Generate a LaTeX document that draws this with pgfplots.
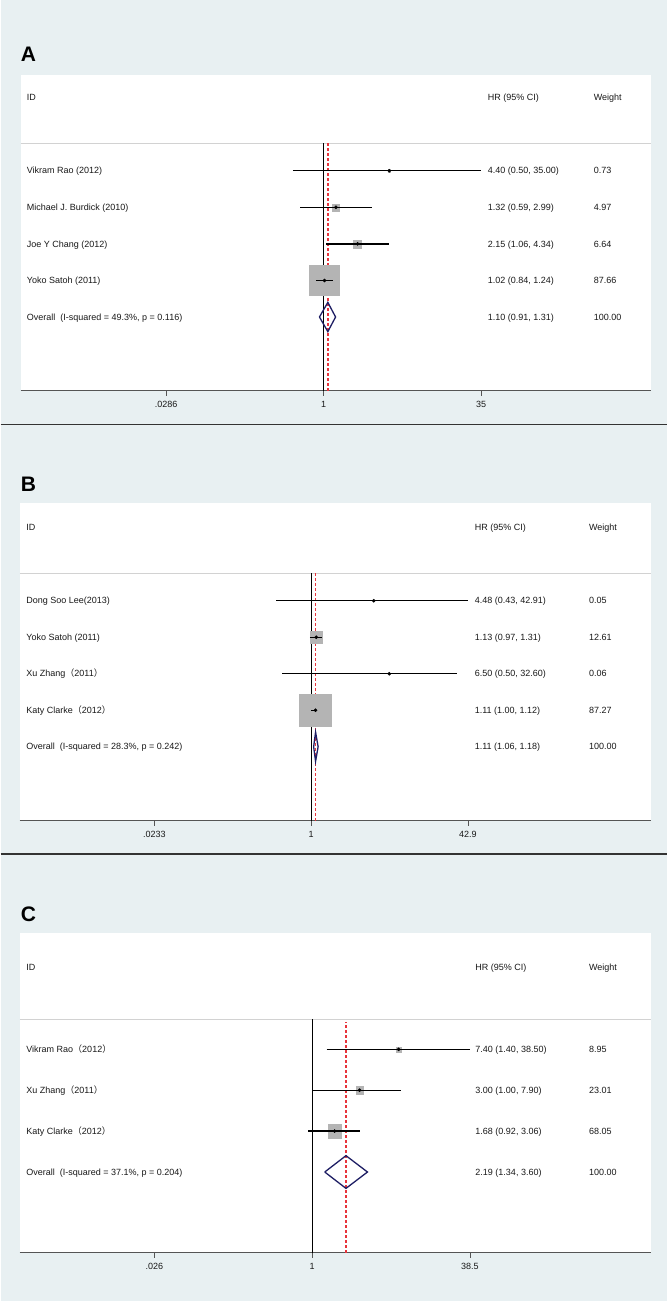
\documentclass[border=0pt]{standalone}
\usepackage{fontspec}
\setmainfont{Liberation Sans}
\newfontfamily\cjk{Noto Sans CJK SC}
\usepackage{pgfplots}
\usepackage{pgfplotstable}
\pgfplotsset{compat=1.18}

\definecolor{bgcol}{HTML}{E8F0F2}
\definecolor{boxgray}{HTML}{B4B4B4}
\definecolor{navy}{HTML}{1E1E64}
\definecolor{refred}{HTML}{E8343C}
\definecolor{hdrgray}{HTML}{D2D2D2}
\definecolor{axgray}{HTML}{555555}

% studies: row, HR, lower, upper, weight
\pgfplotstableread{
row hr   lo   hi    w
6   4.40 0.50 35.00 0.73
5   1.32 0.59 2.99  4.97
4   2.15 1.06 4.34  6.64
3   1.02 0.84 1.24  87.66
}\tabA
\pgfplotstableread{
row hr   lo   hi    w
6   4.48 0.43 42.91 0.05
5   1.13 0.97 1.31  12.61
4   6.50 0.50 32.60 0.06
3   1.11 1.00 1.12  87.27
}\tabB
\pgfplotstableread{
row hr   lo   hi    w
5   7.40 1.40 38.50 8.95
4   3.00 1.00 7.90  23.01
3   1.68 0.92 3.06  68.05
}\tabC

\newcommand{\lp}{{\cjk （}}
\newcommand{\rp}{{\cjk ）}}

\tikzset{
  lab/.style={anchor=base west, inner sep=0pt, yshift=-3.2pt,
    font=\fontsize{9}{10}\selectfont, text=black!90},
  ci/.style={black, line width=1.4pt},
  refl/.style={refred, line width=1.4pt, dash pattern=on 3pt off 2pt},
  diam/.style={navy, line width=1.3pt},
}

% text of one row: x of label, x of HR, x of weight, row, label, HR, weight
\newcommand{\rowtext}[7]{%
  \node[lab] at ({rel axis cs:#1,0} |- {axis cs:1,#4}) {#5};
  \node[lab] at ({rel axis cs:#2,0} |- {axis cs:1,#4}) {#6};
  \node[lab] at ({rel axis cs:#3,0} |- {axis cs:1,#4}) {#7};
}

\begin{document}
\begin{tikzpicture}
\fill[bgcol] (0,0) rectangle (666pt,-1301pt);
\draw[black!80, line width=1.4pt] (0,-424.3pt) -- (666pt,-424.3pt);
\draw[black!80, line width=1.4pt] (0,-853.8pt) -- (666pt,-853.8pt);

\node[anchor=west, inner sep=0pt, font=\fontsize{21}{21}\selectfont\bfseries] at (20pt,-54pt) {A};
\node[anchor=west, inner sep=0pt, font=\fontsize{21}{21}\selectfont\bfseries] at (20pt,-484pt) {B};
\node[anchor=west, inner sep=0pt, font=\fontsize{21}{21}\selectfont\bfseries] at (20pt,-914pt) {C};

% ---------------- A
\begin{axis}[xmode=log, scale only axis, clip=false, clip marker paths=true,
  axis background/.style={fill=white},
  axis x line*=bottom, axis y line=none,
  axis line style={axgray, line width=1pt},
  tick align=outside, major tick length=5pt,
  tick style={axgray, line width=0.8pt},
  ytick=\empty,
  xticklabel style={font=\fontsize{9}{10}\selectfont, text=black!90, yshift=-2pt},
  at={(20pt,-390.7pt)}, anchor=south west,
  width=630pt, height=315.7pt,
  xmin=0.001073, xmax=1608, ymin=-0.015, ymax=8.617,
  xtick={0.0286,1,35}, xticklabels={.0286,1,35}]
\addplot[hdrgray, line width=0.9pt] coordinates {(0.001073,6.749) (1608,6.749)};
\addplot[black, line width=0.9pt] coordinates {(1,-0.015) (1,6.749)};
\addplot[refl] coordinates {(1.10,-0.015) (1.10,6.749)};
\addplot[scatter, only marks, mark=square*,
  scatter/use mapped color={draw=boxgray, fill=boxgray},
  visualization depends on={\thisrow{w} \as \wt},
  scatter/@pre marker code/.append style={/tikz/mark size={1.6*sqrt(\wt)}}]
  table[x=hr, y=row] \tabA;
\addplot[ci] coordinates {(0.50,6) (35.00,6)};
\addplot[ci] coordinates {(0.59,5) (2.99,5)};
\addplot[ci] coordinates {(1.06,4) (4.34,4)};
\addplot[ci] coordinates {(0.84,3) (1.24,3)};
\addplot[only marks, mark=*, mark size=1.6pt, black] table[x=hr, y=row] \tabA;
\addplot[diam] coordinates {(0.91,2) (1.10,2.4) (1.31,2) (1.10,1.6) (0.91,2)};
\rowtext{0.0095}{0.7413}{0.9095}{8.007}{ID}{HR (95\% CI)}{Weight}
\rowtext{0.0095}{0.7413}{0.9095}{6}{Vikram Rao (2012)}{4.40 (0.50, 35.00)}{0.73}
\rowtext{0.0095}{0.7413}{0.9095}{5}{Michael J. Burdick (2010)}{1.32 (0.59, 2.99)}{4.97}
\rowtext{0.0095}{0.7413}{0.9095}{4}{Joe Y Chang (2012)}{2.15 (1.06, 4.34)}{6.64}
\rowtext{0.0095}{0.7413}{0.9095}{3}{Yoko Satoh (2011)}{1.02 (0.84, 1.24)}{87.66}
\rowtext{0.0095}{0.7413}{0.9095}{2}{Overall\ \ (I-squared = 49.3\%, p = 0.116)}{1.10 (0.91, 1.31)}{100.00}
\end{axis}

% ---------------- B
\begin{axis}[xmode=log, scale only axis, clip=false, clip marker paths=true,
  axis background/.style={fill=white},
  axis x line*=bottom, axis y line=none,
  axis line style={axgray, line width=1pt},
  tick align=outside, major tick length=5pt,
  tick style={axgray, line width=0.8pt},
  ytick=\empty,
  xticklabel style={font=\fontsize{9}{10}\selectfont, text=black!90, yshift=-2pt},
  at={(19pt,-820.7pt)}, anchor=south west,
  width=631pt, height=317.4pt,
  xmin=0.000921, xmax=3429, ymin=-0.027, ymax=8.669,
  xtick={0.0233,1,42.9}, xticklabels={.0233,1,42.9}]
\addplot[hdrgray, line width=0.9pt] coordinates {(0.000921,6.751) (3429,6.751)};
\addplot[black, line width=0.9pt] coordinates {(1,-0.027) (1,6.751)};
\addplot[refl] coordinates {(1.11,-0.027) (1.11,6.751)};
\addplot[scatter, only marks, mark=square*,
  scatter/use mapped color={draw=boxgray, fill=boxgray},
  visualization depends on={\thisrow{w} \as \wt},
  scatter/@pre marker code/.append style={/tikz/mark size={1.7*sqrt(\wt)}}]
  table[x=hr, y=row] \tabB;
\addplot[ci] coordinates {(0.43,6) (42.91,6)};
\addplot[ci] coordinates {(0.97,5) (1.31,5)};
\addplot[ci] coordinates {(0.50,4) (32.60,4)};
\addplot[ci] coordinates {(1.00,3) (1.12,3)};
\addplot[only marks, mark=*, mark size=1.6pt, black] table[x=hr, y=row] \tabB;
\addplot[diam] coordinates {(1.06,2) (1.11,2.4) (1.18,2) (1.11,1.6) (1.06,2)};
\rowtext{0.0103}{0.721}{0.902}{8.011}{ID}{HR (95\% CI)}{Weight}
\rowtext{0.0103}{0.721}{0.902}{6}{Dong Soo Lee(2013)}{4.48 (0.43, 42.91)}{0.05}
\rowtext{0.0103}{0.721}{0.902}{5}{Yoko Satoh (2011)}{1.13 (0.97, 1.31)}{12.61}
\rowtext{0.0103}{0.721}{0.902}{4}{Xu Zhang\lp 2011\rp}{6.50 (0.50, 32.60)}{0.06}
\rowtext{0.0103}{0.721}{0.902}{3}{Katy Clarke\lp 2012\rp}{1.11 (1.00, 1.12)}{87.27}
\rowtext{0.0103}{0.721}{0.902}{2}{Overall\ \ (I-squared = 28.3\%, p = 0.242)}{1.11 (1.06, 1.18)}{100.00}
\end{axis}

% ---------------- C
\begin{axis}[xmode=log, scale only axis, clip=false, clip marker paths=true,
  axis background/.style={fill=white},
  axis x line*=bottom, axis y line=none,
  axis line style={axgray, line width=1pt},
  tick align=outside, major tick length=5pt,
  tick style={axgray, line width=0.8pt},
  ytick=\empty,
  xticklabel style={font=\fontsize{9}{10}\selectfont, text=black!90, yshift=-2pt},
  at={(19pt,-1252.7pt)}, anchor=south west,
  width=631pt, height=319.4pt,
  xmin=0.001155, xmax=2522, ymin=0.027, ymax=7.836,
  xtick={0.026,1,38.5}, xticklabels={.026,1,38.5}]
\addplot[hdrgray, line width=0.9pt] coordinates {(0.001155,5.741) (2522,5.741)};
\addplot[black, line width=0.9pt] coordinates {(1,0.027) (1,5.741)};
\addplot[refl] coordinates {(2.19,0.027) (2.19,5.67)};
\addplot[scatter, only marks, mark=square*,
  scatter/use mapped color={draw=boxgray, fill=boxgray},
  visualization depends on={\thisrow{w} \as \wt},
  scatter/@pre marker code/.append style={/tikz/mark size={0.8*sqrt(\wt)}}]
  table[x=hr, y=row] \tabC;
\addplot[ci] coordinates {(1.40,5) (38.50,5)};
\addplot[ci] coordinates {(1.00,4) (7.90,4)};
\addplot[ci] coordinates {(0.92,3) (3.06,3)};
\addplot[only marks, mark=*, mark size=1.6pt, black] table[x=hr, y=row] \tabC;
\addplot[diam] coordinates {(1.34,2) (2.19,2.4) (3.60,2) (2.19,1.6) (1.34,2)};
\rowtext{0.0103}{0.722}{0.902}{6.995}{ID}{HR (95\% CI)}{Weight}
\rowtext{0.0103}{0.722}{0.902}{5}{Vikram Rao\lp 2012\rp}{7.40 (1.40, 38.50)}{8.95}
\rowtext{0.0103}{0.722}{0.902}{4}{Xu Zhang\lp 2011\rp}{3.00 (1.00, 7.90)}{23.01}
\rowtext{0.0103}{0.722}{0.902}{3}{Katy Clarke\lp 2012\rp}{1.68 (0.92, 3.06)}{68.05}
\rowtext{0.0103}{0.722}{0.902}{2}{Overall\ \ (I-squared = 37.1\%, p = 0.204)}{2.19 (1.34, 3.60)}{100.00}
\end{axis}
\end{tikzpicture}
\end{document}
